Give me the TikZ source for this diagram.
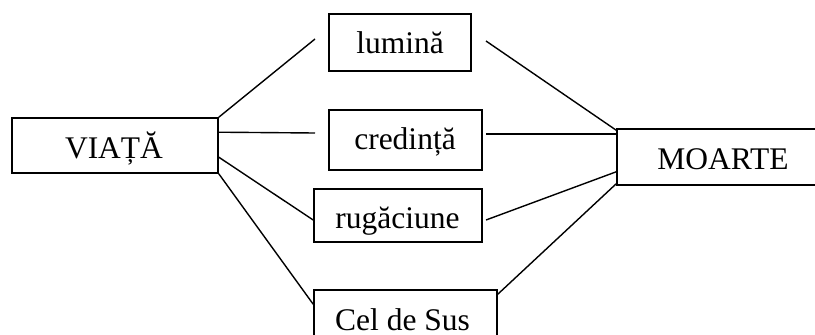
\documentclass[tikz,border=0pt]{standalone}
\usepackage{fontspec}
\setmainfont{Liberation Serif}
\begin{document}
\begin{tikzpicture}[x=1pt,y=-1pt,
  box/.style={draw, line width=1.6pt, rectangle, inner sep=0pt},
  lbl/.style={anchor=base, inner sep=0pt, font=\fontsize{31.5}{36}\selectfont},
  conn/.style={line width=1.4pt}]
\useasboundingbox (0,0) rectangle (815,335);
% boxes
\node[box, minimum width=206pt, minimum height=55pt] (V) at (115,145.5) {};
\node[box, minimum width=142pt, minimum height=57pt] (L) at (400,42.5) {};
\node[box, minimum width=153pt, minimum height=60pt] (C) at (405.5,140) {};
\node[box, minimum width=168pt, minimum height=53pt] (R) at (398,215.5) {};
\node[box, minimum width=183pt, minimum height=70pt] (S) at (405.5,325) {};
\node[box, minimum width=205pt, minimum height=56pt] (M) at (719.5,157) {};
% texts
\node[lbl] (Vt) at (114,158) {VIAȚĂ};
\node[lbl] (Lt) at (400,53) {lumină};
\node[lbl] (Ct) at (405,149) {credință};
\node[lbl] (Rt) at (397.5,228.5) {rugăciune};
\node[lbl] (St) at (402.5,330) {Cel de Sus};
\node[lbl] (Mt) at (723,169) {MOARTE};
% free ends
\coordinate (aL) at (315,39);
\coordinate (aC) at (315,133);
\coordinate (bL) at (486,41);
\coordinate (bC) at (486,134);
\coordinate (bR) at (486,220);
% connectors
\draw[conn] (V.north east) -- (aL);
\draw[conn] ([yshift=-15pt]V.north east) -- (aC);
\draw[conn] ([yshift=-40pt]V.north east) -- ([yshift=-4.5pt]R.west);
\draw[conn] (V.south east) -- ([yshift=-15pt]S.north west);
\draw[conn] (bL) -- ([yshift=-2pt]M.north west);
\draw[conn] (bC) -- (M.west |- bC);
\draw[conn] (bR) -- ([yshift=14pt]M.south west);
\draw[conn] ([yshift=-5pt]S.north east) -- ([yshift=2pt]M.south west);
\end{tikzpicture}
\end{document}
